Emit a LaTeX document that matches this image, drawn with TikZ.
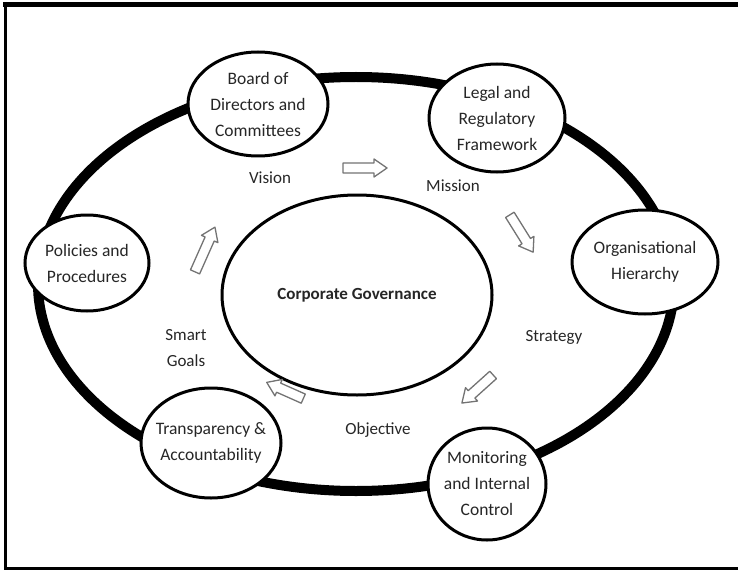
\documentclass[tikz,border=0pt]{standalone}
\usepackage{fontspec}
\setmainfont{Carlito}
\usetikzlibrary{shapes.geometric}
\begin{document}
\begin{tikzpicture}[x=1pt,y=-1pt,
  txt/.style={font=\fontsize{17}{25.5}\selectfont, text=black!85, align=center},
  btxt/.style={font=\fontsize{17.5}{26}\selectfont, text=black!85, align=center},
  bub/.style={ellipse, draw=black, line width=3pt, fill=white, inner sep=0pt},
  pics/harrow/.style={code={
    \draw[draw=black!55, line width=1.3pt, fill=white, line join=round]
      (-#1/2,-5) -- (#1/2-13,-5) -- (#1/2-13,-9) -- (#1/2,0) -- (#1/2-13,9)
      -- (#1/2-13,5) -- (-#1/2,5) -- cycle;
  }},
]
\useasboundingbox (0,0) rectangle (738,572);
% frame
\coordinate (ftl) at (5.5,2);
\coordinate (fbl) at (5.5,570);
\coordinate (ftr) at (738,4.5);
\draw[line width=5pt] (3,4.5) -- (ftr);
\draw[line width=3pt] (ftl) -- (fbl);
\draw[line width=3pt] (4,568.5) -- (738,568.5);
% ring
\coordinate (ringc) at (356,284);
\draw[line width=10pt] (ringc) ellipse [x radius=318, y radius=207];
% central
\node[bub, minimum width=270pt, minimum height=200pt] (cg) at (357,295) {};
\node[txt] (cgt) at (cg) {\bfseries Corporate Governance};
% outer bubbles
\node[bub, minimum width=140pt, minimum height=104pt] (board) at (258,104) {};
\node[btxt] (boardt) at (board) {Board of\\Directors and\\Committees};
\node[bub, minimum width=136pt, minimum height=108pt] (legal) at (497,118) {};
\node[btxt] (legalt) at (legal) {Legal and\\Regulatory\\Framework};
\node[bub, minimum width=146pt, minimum height=104pt] (org) at (645,262) {};
\node[btxt] (orgt) at (org) {Organisational\\Hierarchy};
\node[bub, minimum width=124pt, minimum height=96pt] (pol) at (87,263) {};
\node[btxt] (polt) at (pol) {Policies and\\Procedures};
\node[bub, minimum width=140pt, minimum height=110pt] (tra) at (211,443) {};
\node[btxt] (trat) at (tra) {Transparency \&\\Accountability};
\node[bub, minimum width=118pt, minimum height=112pt] (mon) at (487,484) {};
\node[btxt] (mont) at (mon) {Monitoring\\and Internal\\Control};
% labels
\node[txt] (vision) at (270,178) {Vision};
\node[txt] (mission) at (453,186) {Mission};
\node[txt] (strategy) at (554,337) {Strategy};
\node[txt] (objective) at (378,430) {Objective};
\node[txt] (smart) at (186,348) {Smart\\Goals};
% hollow arrows
\pic (a1) at (365,168) {harrow=44};
\pic[rotate=-58] (a2) at (521.5,233.5) {harrow=44};
\pic[rotate=-138] (a3) at (477.5,389) {harrow=42};
\pic[rotate=156] (a4) at (285,390.5) {harrow=40};
\pic[rotate=66] (a5) at (205,249.5) {harrow=49};
\end{tikzpicture}
\end{document}
